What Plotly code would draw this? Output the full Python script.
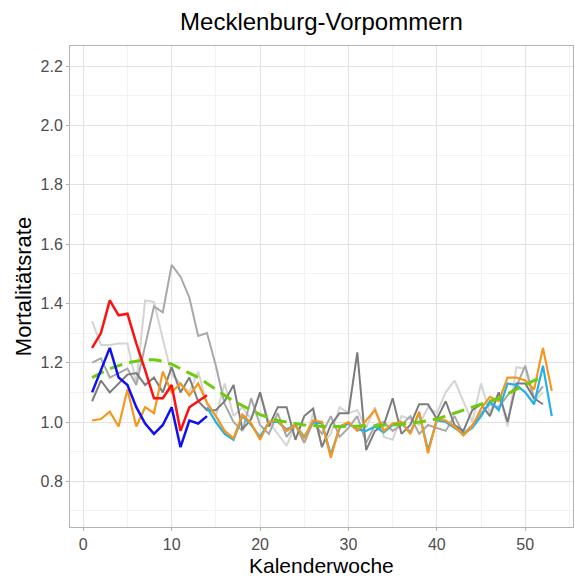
import plotly.graph_objects as go

weeks = list(range(1, 54))

# expected baseline (green dashed), weeks 1-52
baseline = [1.15, 1.165, 1.18, 1.19, 1.20, 1.205, 1.21, 1.21, 1.205, 1.195,
            1.18, 1.165, 1.15, 1.13, 1.11, 1.09, 1.07, 1.055, 1.04, 1.025,
            1.015, 1.005, 1.0, 0.995, 0.99, 0.988, 0.985, 0.985, 0.985, 0.985,
            0.985, 0.985, 0.987, 0.99, 0.99, 0.993, 0.996, 1.0, 1.005, 1.01,
            1.02, 1.03, 1.04, 1.05, 1.06, 1.07, 1.08, 1.095, 1.11, 1.125,
            1.14, 1.15]

gray_light = [1.34, 1.26, 1.26, 1.265, 1.265, 1.13, 1.41, 1.405, 1.28, 1.16,
              1.13, 1.10, 1.17, 1.06, 1.02, 1.13, 1.02, 1.05, 1.01, 1.10,
              1.00, 0.96, 0.92, 0.99, 0.93, 1.03, 0.92, 0.96, 1.05, 1.03,
              1.04, 0.98, 1.05, 0.95, 0.94, 1.02, 1.01, 0.99, 1.05, 1.03,
              1.10, 1.14, 1.07, 1.00, 1.13, 1.03, 1.10, 0.985, 1.185, 1.18,
              1.07, 1.10]

gray_mid = [1.20, 1.215, 1.15, 1.165, 1.18, 1.125, 1.26, 1.39, 1.37, 1.53,
            1.49, 1.42, 1.29, 1.30, 1.19, 1.06, 1.0, 0.97, 1.08, 0.99,
            0.96, 1.03, 0.95, 0.99, 0.93, 1.0, 0.96, 1.02, 0.95, 0.98,
            1.02, 0.93, 0.99, 1.0, 0.97, 0.99, 1.02, 0.96, 0.99, 0.98,
            0.97, 1.02, 0.96, 0.99, 1.03, 1.06, 1.05, 1.09, 1.12, 1.19,
            1.08, 1.12]

gray_dark = [1.07, 1.14, 1.10, 1.13, 1.16, 1.165, 1.125, 1.15, 1.10, 1.185,
             1.10, 1.15, 1.07, 1.04, 1.04, 1.07, 1.125, 0.975, 1.01, 1.10,
             0.985, 1.05, 1.05, 0.94, 1.02, 1.045, 0.915, 0.99, 1.03, 1.03,
             1.235, 0.905, 0.97, 0.99, 1.08, 0.96, 0.99, 1.06, 1.06, 1.01,
             1.07, 0.99, 0.97, 1.04, 1.06, 1.02, 1.10, 1.00, 1.13, 1.13,
             1.08, 1.06]

orange = [1.005, 1.01, 1.035, 0.985, 1.11, 0.985, 1.05, 1.03, 1.17, 1.10,
          1.13, 1.09, 1.13, 1.065, 1.02, 0.97, 0.945, 1.025, 0.995, 0.94,
          1.0, 1.005, 0.97, 0.99, 0.945, 1.005, 1.0, 0.88, 0.985, 1.0,
          0.97, 1.005, 1.04, 0.97, 0.995, 1.0, 0.96, 1.035, 0.895, 1.01,
          1.005, 0.985, 0.955, 0.985, 1.045, 1.085, 1.07, 1.15, 1.15, 1.14,
          1.11, 1.25, 1.105]

cyan_weeks = list(range(14, 54))
cyan = [1.05, 1.0, 0.96, 0.94, 1.02, 0.99, 0.95, 1.0, 1.0, 0.975,
        0.99, 0.95, 1.0, 0.995, 0.89, 0.98, 0.995, 0.975, 0.97, 0.985,
        0.965, 0.99, 0.995, 0.965, 1.03, 0.905, 1.005, 1.0, 0.98, 0.96,
        0.98, 1.02, 1.07, 1.04, 1.13, 1.125, 1.10, 1.06, 1.19, 1.02]

early_weeks = list(range(1, 15))
red = [1.25, 1.30, 1.41, 1.36, 1.365, 1.265, 1.175, 1.08, 1.08, 1.125,
       0.97, 1.05, 1.07, 1.09]
blue = [1.10, 1.175, 1.25, 1.15, 1.125, 1.05, 0.995, 0.96, 0.99, 1.05,
        0.915, 1.005, 0.995, 1.02]

FONT = "Liberation Sans, Arial"

fig = go.Figure()

def add(x, y, color, width, dash="solid"):
    fig.add_trace(go.Scatter(x=x, y=y, mode="lines",
                             line=dict(color=color, width=width, dash=dash),
                             showlegend=False, hoverinfo="skip"))

add(weeks[:len(gray_light)], gray_light, "#d4d4d4", 2.0)
add(weeks[:len(gray_mid)], gray_mid, "#a8a8a8", 2.0)
add(weeks[:len(gray_dark)], gray_dark, "#7c7c7c", 2.0)
add(cyan_weeks, cyan, "#22b0e8", 2.2)
add(weeks, orange, "#f5961e", 2.2)
add(weeks[:len(baseline)], baseline, "#6ccc10", 3.0, "13px,7px")
add(early_weeks, red, "#ff1010", 2.5)
add(early_weeks, blue, "#1010f0", 2.5)

axis_common = dict(
    showline=True, linecolor="#b3b3b3", linewidth=1, mirror=True,
    showgrid=True, gridcolor="#e2e2e2", gridwidth=1,
    ticks="outside", ticklen=3, tickcolor="#b3b3b3",
    tickfont=dict(family=FONT, size=16, color="#4d4d4d"),
    zeroline=False,
)

fig.update_layout(
    width=575, height=576,
    margin=dict(l=70, r=2, t=46, b=49),
    paper_bgcolor="white", plot_bgcolor="white",
    title=dict(text="Mecklenburg-Vorpommern", x=(70 + 573) / 2 / 575, xanchor="center",
               y=1 - 22 / 576, yanchor="middle",
               font=dict(family=FONT, size=24, color="black")),
    xaxis=dict(range=[-1.5, 55.4], tickvals=[0, 10, 20, 30, 40, 50],
               minor=dict(dtick=5, tick0=5, showgrid=True, gridcolor="#f2f2f2", ticks=""),
               **axis_common),
    yaxis=dict(range=[0.646, 2.268], tickvals=[0.8, 1.0, 1.2, 1.4, 1.6, 1.8, 2.0, 2.2],
               tickformat=".1f",
               title=dict(text="Mortalitätsrate", standoff=2,
                          font=dict(family=FONT, size=22, color="black")),
               minor=dict(dtick=0.2, tick0=0.7, showgrid=True, gridcolor="#f2f2f2", ticks=""),
               **axis_common),
    annotations=[dict(text="Kalenderwoche", xref="paper", yref="paper",
                      x=0.5, y=-(565 - 527) / 481, xanchor="center", yanchor="middle",
                      showarrow=False,
                      font=dict(family=FONT, size=21, color="black"))],
)

fig.write_html("out.html")
